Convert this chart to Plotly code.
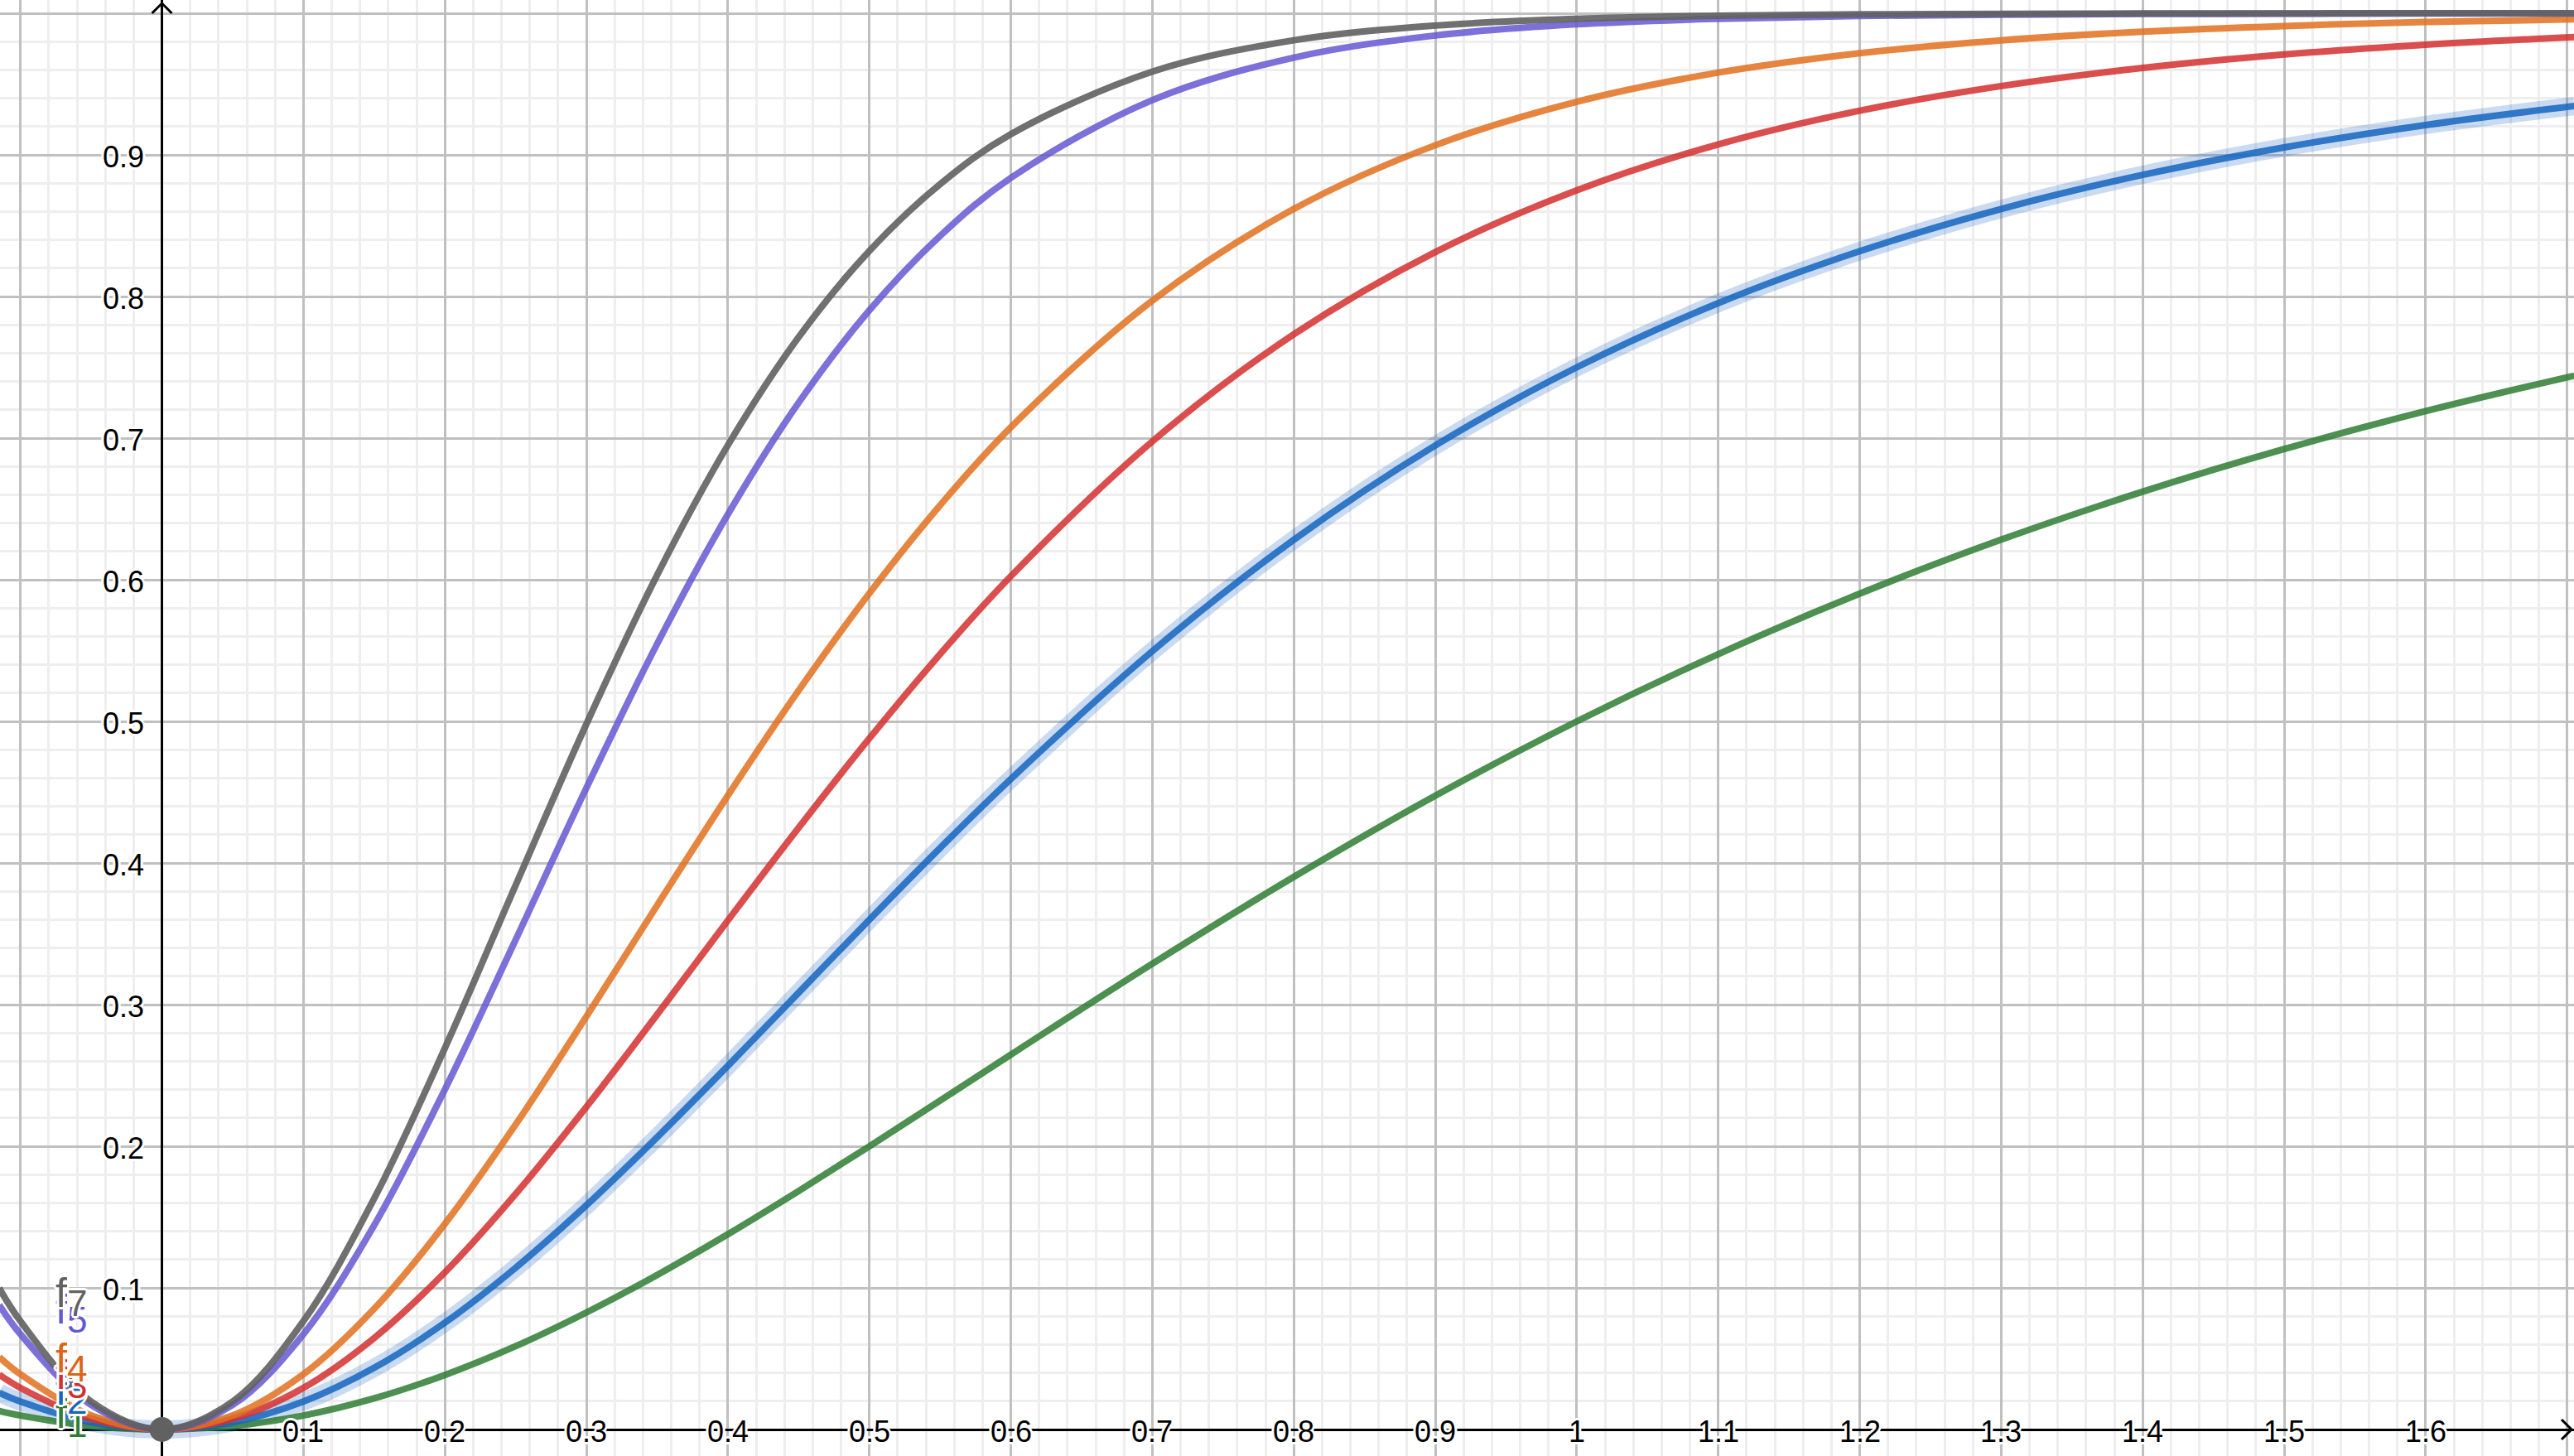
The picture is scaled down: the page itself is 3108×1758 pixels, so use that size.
import plotly.graph_objects as go

# ---------------- data ----------------
x_vals = [-0.115, -0.1, -0.05, 0, 0.05, 0.1, 0.15, 0.2, 0.25, 0.3, 0.35, 0.4, 0.45,
          0.5, 0.55, 0.6, 0.7, 0.8, 0.9, 1.0, 1.1, 1.2, 1.3, 1.4, 1.5, 1.6, 1.705]

f1_vals = [0.0131, 0.0099, 0.0025, 0, 0.0025, 0.0099, 0.0220, 0.0385, 0.0588, 0.0826, 0.1091, 0.1379, 0.1684,
           0.2000, 0.2323, 0.2647, 0.3289, 0.3902, 0.4475, 0.5000, 0.5475, 0.5902, 0.6283, 0.6622, 0.6923, 0.7191, 0.7441]
f2_vals = [0.0259, 0.0197, 0.0050, 0, 0.0050, 0.0197, 0.0435, 0.0754, 0.1142, 0.1583, 0.2064, 0.2568, 0.3084,
           0.3600, 0.4106, 0.4593, 0.5496, 0.6282, 0.6948, 0.7500, 0.7953, 0.8320, 0.8618, 0.8859, 0.9053, 0.9211, 0.9345]
f3_vals = [0.0387, 0.0294, 0.0075, 0, 0.0075, 0.0294, 0.0646, 0.1110, 0.1663, 0.2278, 0.2930, 0.3594, 0.4249,
           0.4880, 0.5475, 0.6025, 0.6977, 0.7733, 0.8314, 0.8750, 0.9074, 0.9312, 0.9486, 0.9614, 0.9709, 0.9778, 0.9832]
f4_vals = [0.0512, 0.0390, 0.0099, 0, 0.0099, 0.0390, 0.0852, 0.1452, 0.2153, 0.2916, 0.3701, 0.4477, 0.5218,
           0.5904, 0.6526, 0.7077, 0.7971, 0.8618, 0.9068, 0.9375, 0.9581, 0.9718, 0.9809, 0.9870, 0.9910, 0.9938, 0.9957]
f5_vals = [0.0879, 0.0673, 0.0173, 0, 0.0173, 0.0673, 0.1442, 0.2401, 0.3458, 0.4530, 0.5547, 0.6462, 0.7250,
           0.7903, 0.8428, 0.8838, 0.9387, 0.9687, 0.9843, 0.9922, 0.9961, 0.9981, 0.9990, 0.9995, 0.9997, 0.9999, 0.9999]
f7_vals = [0.0998, 0.0765, 0.0198, 0, 0.0198, 0.0765, 0.1631, 0.2693, 0.3843, 0.4981, 0.6033, 0.6950, 0.7713,
           0.8322, 0.8793, 0.9146, 0.9588, 0.9809, 0.9913, 0.9961, 0.9982, 0.9992, 0.9996, 0.9998, 0.9999, 1.0000, 1.0000]

curve_names = ["f_1", "f_2", "f_3", "f_4", "f_5", "f_7"]
curve_subs = ["1", "2", "3", "4", "5", "7"]

x_tick_values = [0.1, 0.2, 0.3, 0.4, 0.5, 0.6, 0.7, 0.8, 0.9, 1, 1.1, 1.2, 1.3, 1.4, 1.5, 1.6]
x_tick_labels = ["0.1", "0.2", "0.3", "0.4", "0.5", "0.6", "0.7", "0.8", "0.9", "1",
                 "1.1", "1.2", "1.3", "1.4", "1.5", "1.6"]
y_tick_values = [0.1, 0.2, 0.3, 0.4, 0.5, 0.6, 0.7, 0.8, 0.9]
y_tick_labels = ["0.1", "0.2", "0.3", "0.4", "0.5", "0.6", "0.7", "0.8", "0.9"]

point_x = [0]
point_y = [0]

# ---------------- styles ----------------
series = [f1_vals, f2_vals, f3_vals, f4_vals, f5_vals, f7_vals]
line_colors = ["rgba(46,125,50,0.85)", "rgba(21,101,192,0.85)", "rgba(211,47,47,0.85)",
               "rgba(224,112,30,0.85)", "rgba(101,87,210,0.85)", "rgba(97,97,97,0.9)"]
label_colors = ["#2E7D32", "#1565C0", "#D32F2F", "#DC6418", "#6557D2", "#616161"]
# label anchor positions (data units, left edge / vertical centre)
label_pos_x = [-0.0765, -0.0765, -0.0765, -0.0765, -0.0765, -0.0765]
label_pos_y = [0.0085, 0.0250, 0.0357, 0.0474, 0.0819, 0.0940]
label_order = [0, 1, 2, 4, 3, 5]

X_RANGE = [-0.11444, 1.70481]
Y_RANGE = [-0.01871, 1.00936]
FONT = "Arial, Liberation Sans, sans-serif"
HALO = ("3px 0 0 #fff, -3px 0 0 #fff, 0 3px 0 #fff, 0 -3px 0 #fff, "
        "2px 2px 0 #fff, -2px -2px 0 #fff, 2px -2px 0 #fff, -2px 2px 0 #fff")

fig = go.Figure()

# highlight halo of selected f_2
fig.add_trace(go.Scatter(x=x_vals, y=f2_vals, mode="lines", line_shape="spline",
                         line=dict(color="rgba(45,112,200,0.25)", width=22),
                         hoverinfo="skip", showlegend=False))

for name, vals, col in zip(curve_names, series, line_colors):
    fig.add_trace(go.Scatter(x=x_vals, y=vals, mode="lines", name=name, line_shape="spline",
                             line=dict(color=col, width=8), showlegend=False))

fig.add_trace(go.Scatter(x=point_x, y=point_y, mode="markers",
                         marker=dict(color="#616161", size=30), showlegend=False))

annotations = []
for v, t in zip(x_tick_values, x_tick_labels):
    annotations.append(dict(x=v, y=0, xref="x", yref="y", text=t, showarrow=False,
                            xanchor="center", yanchor="middle", yshift=-2,
                            font=dict(family=FONT, size=36, color="#000", shadow=HALO)))
for v, t in zip(y_tick_values, y_tick_labels):
    annotations.append(dict(x=0, y=v, xref="x", yref="y", text=t, showarrow=False,
                            xanchor="right", yanchor="middle", xshift=-20, yshift=-2,
                            font=dict(family=FONT, size=36, color="#000", shadow=HALO)))
for i in label_order:
    annotations.append(dict(x=label_pos_x[i], y=label_pos_y[i], xref="x", yref="y",
                            text="f<sub><span style='font-size:44px'>" + curve_subs[i] + "</span></sub>",
                            showarrow=False, xanchor="left", yanchor="middle",
                            font=dict(family=FONT, size=50, color=label_colors[i], shadow=HALO)))

shapes = [
    dict(type="path", xref="x", yref="y", xsizemode="pixel", ysizemode="pixel",
         xanchor=0, yanchor=Y_RANGE[1] - 4 / 1710.0,
         path="M -12,-12 L 0,0 L 12,-12", line=dict(color="#000", width=3), layer="above"),
    dict(type="path", xref="x", yref="y", xsizemode="pixel", ysizemode="pixel",
         xanchor=X_RANGE[1] - 3 / 1708.4, yanchor=0,
         path="M -12,12 L 0,0 L -12,-12", line=dict(color="#000", width=3), layer="above"),
]

axis_common = dict(showgrid=True, gridcolor="#c0c0c0", gridwidth=2.5, dtick=0.1, tick0=0,
                   showticklabels=False, ticks="", showline=False,
                   zeroline=True, zerolinecolor="#000", zerolinewidth=3,
                   minor=dict(dtick=0.02, tick0=0, showgrid=True, gridcolor="#eeeeee", gridwidth=2.5))

fig.update_layout(
    width=3108, height=1758,
    margin=dict(l=0, r=0, t=0, b=0),
    paper_bgcolor="white", plot_bgcolor="white",
    xaxis=dict(range=X_RANGE, **axis_common),
    yaxis=dict(range=Y_RANGE, **axis_common),
    annotations=annotations, shapes=shapes,
    showlegend=False,
)

fig.write_html("out.html", config={"displayModeBar": False},
               post_script="document.body.style.margin='0';document.body.style.overflow='hidden';")
